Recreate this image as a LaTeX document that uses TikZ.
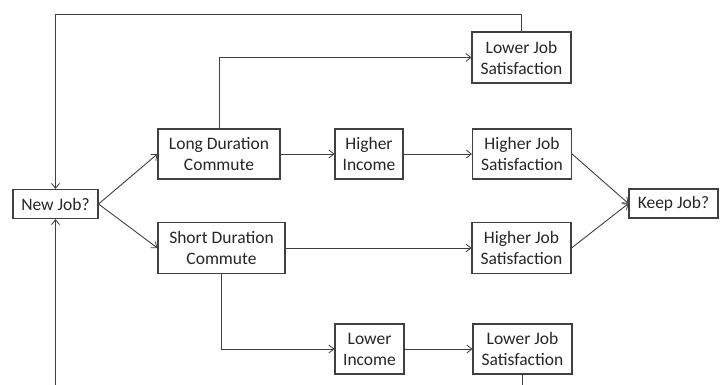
\documentclass[tikz,border=0pt]{standalone}
\usepackage{fontspec}
\setmainfont{Carlito}
\usetikzlibrary{arrows.meta}
\begin{document}
\begin{tikzpicture}[x=1pt,y=-1pt,
  box/.style={draw=black!75,line width=1.1pt,inner sep=0pt,align=center,
    font=\fontsize{17.5}{21}\selectfont,text=black!85},
  conn/.style={draw=black!75,line width=0.9pt},
  arr/.style={conn,-{Straight Barb[length=5pt,width=8pt,line width=0.8pt]}}]
\useasboundingbox (0,0) rectangle (723,385);
\node[box,minimum width=85,minimum height=29] (newjob) at (55.5,204) {New Job?};
\node[box,minimum width=122,minimum height=50] (long) at (219,154) {Long Duration\\Commute};
\node[box,minimum width=127,minimum height=51] (short) at (221.5,248) {Short Duration\\Commute};
\node[box,minimum width=68,minimum height=50] (hinc) at (369,154) {Higher\\Income};
\node[box,minimum width=99,minimum height=50] (hjs1) at (522,154) {Higher Job\\Satisfaction};
\node[box,minimum width=99,minimum height=51] (ljs1) at (521.5,57.5) {Lower Job\\Satisfaction};
\node[box,minimum width=99,minimum height=51] (hjs2) at (521.5,248) {Higher Job\\Satisfaction};
\node[box,minimum width=89,minimum height=29] (keep) at (673.5,203.5) {Keep Job?};
\node[box,minimum width=69,minimum height=50] (linc) at (369.5,349) {Lower\\Income};
\node[box,minimum width=99,minimum height=50] (ljs2) at (522.5,349) {Lower Job\\Satisfaction};
\coordinate (topl) at (55.5,14.7);
\coordinate (botl) at (55.5,385);
\coordinate (botr) at (522.5,385);
\draw[arr] (newjob.east) -- (long.west);
\draw[arr] (newjob.east) -- (short.west);
\draw[arr] (long.east) -- (hinc.west);
\draw[arr] (hinc.east) -- (hjs1.west);
\draw[arr] (long.north) |- (ljs1.west);
\draw[arr] (hjs1.east) -- (keep.west);
\draw[arr] (hjs2.east) -- (keep.west);
\draw[arr] (short.east) -- (hjs2.west);
\draw[arr] (short.south) |- (linc.west);
\draw[arr] (linc.east) -- (ljs2.west);
\draw[arr] (ljs1.north) |- (topl) -- (newjob.north);
\draw[conn] (ljs2.south) -- (botr);
\draw[arr] (botl) -- (newjob.south);
\end{tikzpicture}
\end{document}
